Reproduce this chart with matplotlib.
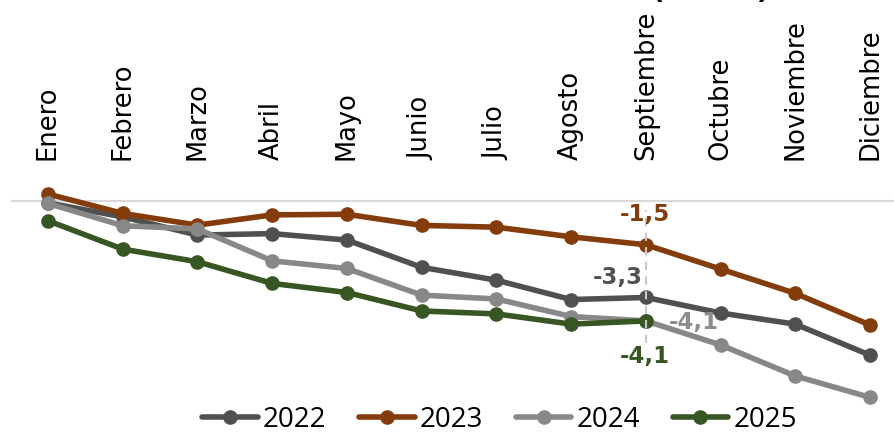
import matplotlib
matplotlib.use("Agg")
import matplotlib.pyplot as plt

meses = ["Enero", "Febrero", "Marzo", "Abril", "Mayo", "Junio", "Julio",
         "Agosto", "Septiembre", "Octubre", "Noviembre", "Diciembre"]
v2022 = [-0.07, -0.55, -1.17, -1.12, -1.34, -2.27, -2.71, -3.37, -3.3, -3.83, -4.21, -5.27]
v2023 = [0.23, -0.43, -0.83, -0.48, -0.46, -0.84, -0.90, -1.23, -1.5, -2.33, -3.16, -4.24]
v2024 = [-0.09, -0.85, -0.96, -2.05, -2.31, -3.22, -3.35, -3.95, -4.1, -4.92, -5.98, -6.71]
v2025 = [-0.68, -1.65, -2.08, -2.82, -3.13, -3.76, -3.86, -4.21, -4.1]
series = [("2022", v2022, "#505050"), ("2023", v2023, "#843c0c"),
          ("2024", v2024, "#888888"), ("2025", v2025, "#375623")]
titulo = "(var. %)"

W, H = 894, 433
fig = plt.figure(figsize=(W / 100, H / 100), dpi=100)
ax_left, ax_right, ax_top, ax_bot = 11, 894, 165, 400
ax = fig.add_axes([ax_left / W, 1 - ax_bot / H, (ax_right - ax_left) / W, (ax_bot - ax_top) / H])

x = list(range(len(meses)))
handles = []
for name, vals, col in series:
    h, = ax.plot(x[:len(vals)], vals, color=col, lw=4.0, marker="o", ms=9.5,
                 clip_on=False, label=name, solid_capstyle="round")
    handles.append(h)

ax.axhline(0, color="#d9d9d9", lw=1.5, zorder=0.5)
ax.set_xlim(-0.495, 11.32)
ax.set_ylim(-6.799, 1.222)
for s in ax.spines.values():
    s.set_visible(False)
ax.set_yticks([])
ax.xaxis.tick_top()
ax.set_xticks(x)
ax.set_xticklabels(meses, rotation=90, fontsize=18.5, family="DejaVu Sans")
ax.tick_params(axis="x", length=0, pad=3.6)

# vertical dashed reference at Septiembre
i = meses.index("Septiembre")
ax.vlines(i, -4.87, -0.32, colors="#c8c8c8", lw=1.5, linestyles=(0, (4, 3)), zorder=10)

lab_kw = dict(textcoords="offset pixels", ha="center", va="center",
              fontsize=16.5, fontweight="bold", family="DejaVu Sans", zorder=11)
ax.annotate("-1,5", (i, v2023[i]), xytext=(-1, 30), color="#843c0c", **lab_kw)
ax.annotate("-3,3", (i, v2022[i]), xytext=(-28, 20), color="#505050", **lab_kw)
ax.annotate("-4,1", (i, v2024[i]), xytext=(48, -2), color="#8c8c8c", **lab_kw)
ax.annotate("-4,1", (i, v2025[i]), xytext=(-1, -36), color="#375623", **lab_kw)

fig.legend(handles=handles, loc="center", bbox_to_anchor=(499.5 / W, 1 - 420 / H),
           ncol=4, frameon=False, prop={"family": "Open Sans", "size": 20},
           handlelength=2.0, handletextpad=0.18, columnspacing=1.18,
           borderaxespad=0, borderpad=0)

fig.text(711 / W, 1 + 1.5 / H, titulo, ha="center", va="baseline",
         fontsize=19.5, fontweight="bold", family="DejaVu Sans")

fig.savefig("out.png", dpi=100)
